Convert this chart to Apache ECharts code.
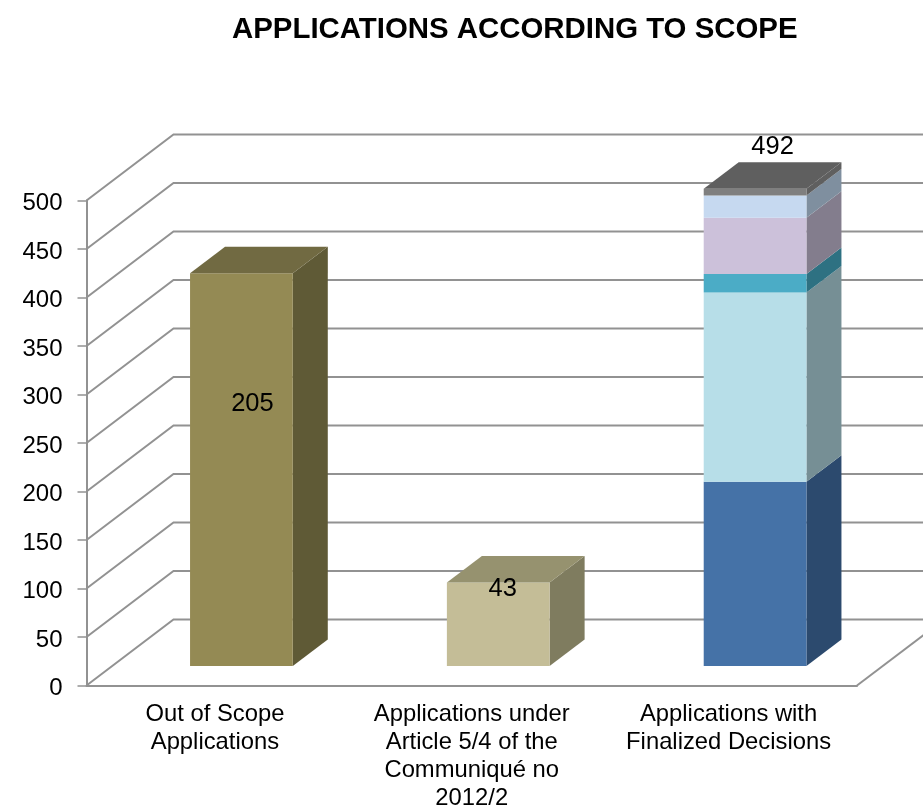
<!DOCTYPE html>
<html>
<head>
<meta charset="utf-8">
<style>html,body{margin:0;padding:0;background:#fff;overflow:hidden}#c{width:923px;height:805px}</style>
<script src="https://cdn.jsdelivr.net/npm/echarts@6/dist/echarts.min.js"></script>
</head>
<body>
<div id="c"></div>
<script>
const titleText = 'APPLICATIONS ACCORDING TO SCOPE';
const categories = ['Out of Scope\nApplications', 'Applications under\nArticle 5/4 of the\nCommuniqué no\n2012/2', 'Applications with\nFinalized Decisions'];
const tickValues = [0, 50, 100, 150, 200, 250, 300, 350, 400, 450, 500];
const outOfScope = [405];
const article54 = [86];
const finalized = [190, 195, 19, 58, 23, 7];
const printedLabels = ['205', '43', '492'];
const labelHeights = [270, 79, 535];

const palette = {
  outOfScope: [['#948a54', '#5f5a36', '#716a42']],
  article54: [['#c4bd97', '#7f7c5f', '#96926f']],
  finalized: [
    ['#4572a7', '#2c4a6e', '#2c4a6e'],
    ['#b7dee8', '#768f95', '#768f95'],
    ['#4bacc6', '#2e7182', '#2e7182'],
    ['#ccc1da', '#837d8d', '#837d8d'],
    ['#c6d9f0', '#7f8f9f', '#7f8f9f'],
    ['#7f7f7f', '#5f5f5f', '#5f5f5f']
  ]
};

const depthX = 87, depthY = 66;     // wall depth
const shiftX = 26.5, shiftY = 19.5; // bar front plane offset
const barDX = 35, barDY = 26.5;     // bar depth
const labelDX = [37.5, 31, 44];
const gridColor = '#929292';
const fontFamily = '"Liberation Sans", Arial, sans-serif';

function stackRows(values, cat, colors) {
  let base = 0;
  return values.map((v, i) => {
    const row = [cat, base, base + v, i, i === values.length - 1 ? 1 : 0];
    base += v;
    return { row, colors: colors[i] };
  });
}
const segments = [
  ...stackRows(outOfScope, 0, palette.outOfScope),
  ...stackRows(article54, 1, palette.article54),
  ...stackRows(finalized, 2, palette.finalized)
];

const wallSeries = {
  type: 'custom', silent: true, z: 1,
  data: tickValues.map(t => [0, t]),
  encode: { x: 0, y: 1 },
  renderItem(params, api) {
    const cs = params.coordSys;
    const y = api.coord([0, api.value(1)])[1];
    const style = { stroke: gridColor, lineWidth: 2, fill: 'none' };
    const pts = [[cs.x, y], [cs.x + depthX, y - depthY], [cs.x + cs.width + depthX, y - depthY]];
    return { type: 'polyline', shape: { points: pts }, style };
  }
};

const floorEdge = {
  type: 'custom', silent: true, z: 1,
  data: [[2, 0]],
  encode: { x: 0, y: 1 },
  renderItem(params, api) {
    const cs = params.coordSys;
    const y = api.coord([0, 0])[1];
    return { type: 'line', shape: { x1: cs.x + cs.width, y1: y, x2: cs.x + cs.width + depthX, y2: y - depthY },
      style: { stroke: gridColor, lineWidth: 2 } };
  }
};

const barSeries = segments.map(seg => ({
  type: 'custom', silent: true, z: 2,
  data: [seg.row],
  encode: { x: 0, y: [1, 2] },
  renderItem(params, api) {
    const cx = api.coord([api.value(0), 0])[0] + shiftX;
    const w = api.size([1, 0])[0] * 0.4;
    const y0 = api.coord([0, api.value(1)])[1] - shiftY;
    const y1 = api.coord([0, api.value(2)])[1] - shiftY;
    const xl = cx - w / 2, xr = cx + w / 2;
    const [front, side, top] = seg.colors;
    const children = [
      { type: 'polygon', shape: { points: [[xr, y0], [xr + barDX, y0 - barDY], [xr + barDX, y1 - barDY], [xr, y1]] }, style: { fill: side } },
      { type: 'rect', shape: { x: xl, y: y1, width: w, height: y0 - y1 }, style: { fill: front } }
    ];
    if (api.value(4)) {
      children.push({ type: 'polygon', shape: { points: [[xl, y1], [xr, y1], [xr + barDX, y1 - barDY], [xl + barDX, y1 - barDY]] }, style: { fill: top } });
    }
    return { type: 'group', children };
  }
}));

const labelSeries = {
  type: 'custom', silent: true, z: 3,
  data: labelHeights.map((h, i) => [i, h]),
  encode: { x: 0, y: 1 },
  renderItem(params, api) {
    const i = api.value(0);
    const p = api.coord([i, 0]);
    const y = api.coord([i, api.value(1)])[1] - shiftY;
    return { type: 'text', style: { text: printedLabels[i], x: p[0] + labelDX[i], y, fill: '#000',
      font: '25.5px ' + fontFamily, align: 'center', verticalAlign: 'middle' } };
  }
};

const chart = echarts.init(document.getElementById('c'), null, { renderer: 'canvas' });
chart.setOption({
  animation: false,
  backgroundColor: '#fff',
  title: { text: titleText, left: 227, top: 10, textStyle: { fontFamily, fontSize: 29.4, fontWeight: 'bold', color: '#000' } },
  grid: { left: 86.5, top: 200.5, width: 770.5, height: 485, outerBoundsMode: 'none' },
  xAxis: {
    type: 'category', data: categories,
    axisLine: { lineStyle: { color: gridColor, width: 2 } },
    axisTick: { length: 6, lineStyle: { color: gridColor, width: 1.5 } },
    splitLine: { show: false },
    axisLabel: { interval: 0, color: '#000', fontSize: 23.8, fontFamily, lineHeight: 28, margin: 15 }
  },
  yAxis: {
    type: 'value', min: 0, max: 500, interval: 50,
    axisLine: { show: true, lineStyle: { color: gridColor, width: 2 } },
    axisTick: { show: true, length: 9, lineStyle: { color: gridColor, width: 1.5 } },
    splitLine: { show: false },
    axisLabel: { color: '#000', fontSize: 24, fontFamily, margin: 24, verticalAlign: 'top', lineHeight: 6 }
  },
  series: [wallSeries, floorEdge, ...barSeries, labelSeries]
});
</script>
</body>
</html>
